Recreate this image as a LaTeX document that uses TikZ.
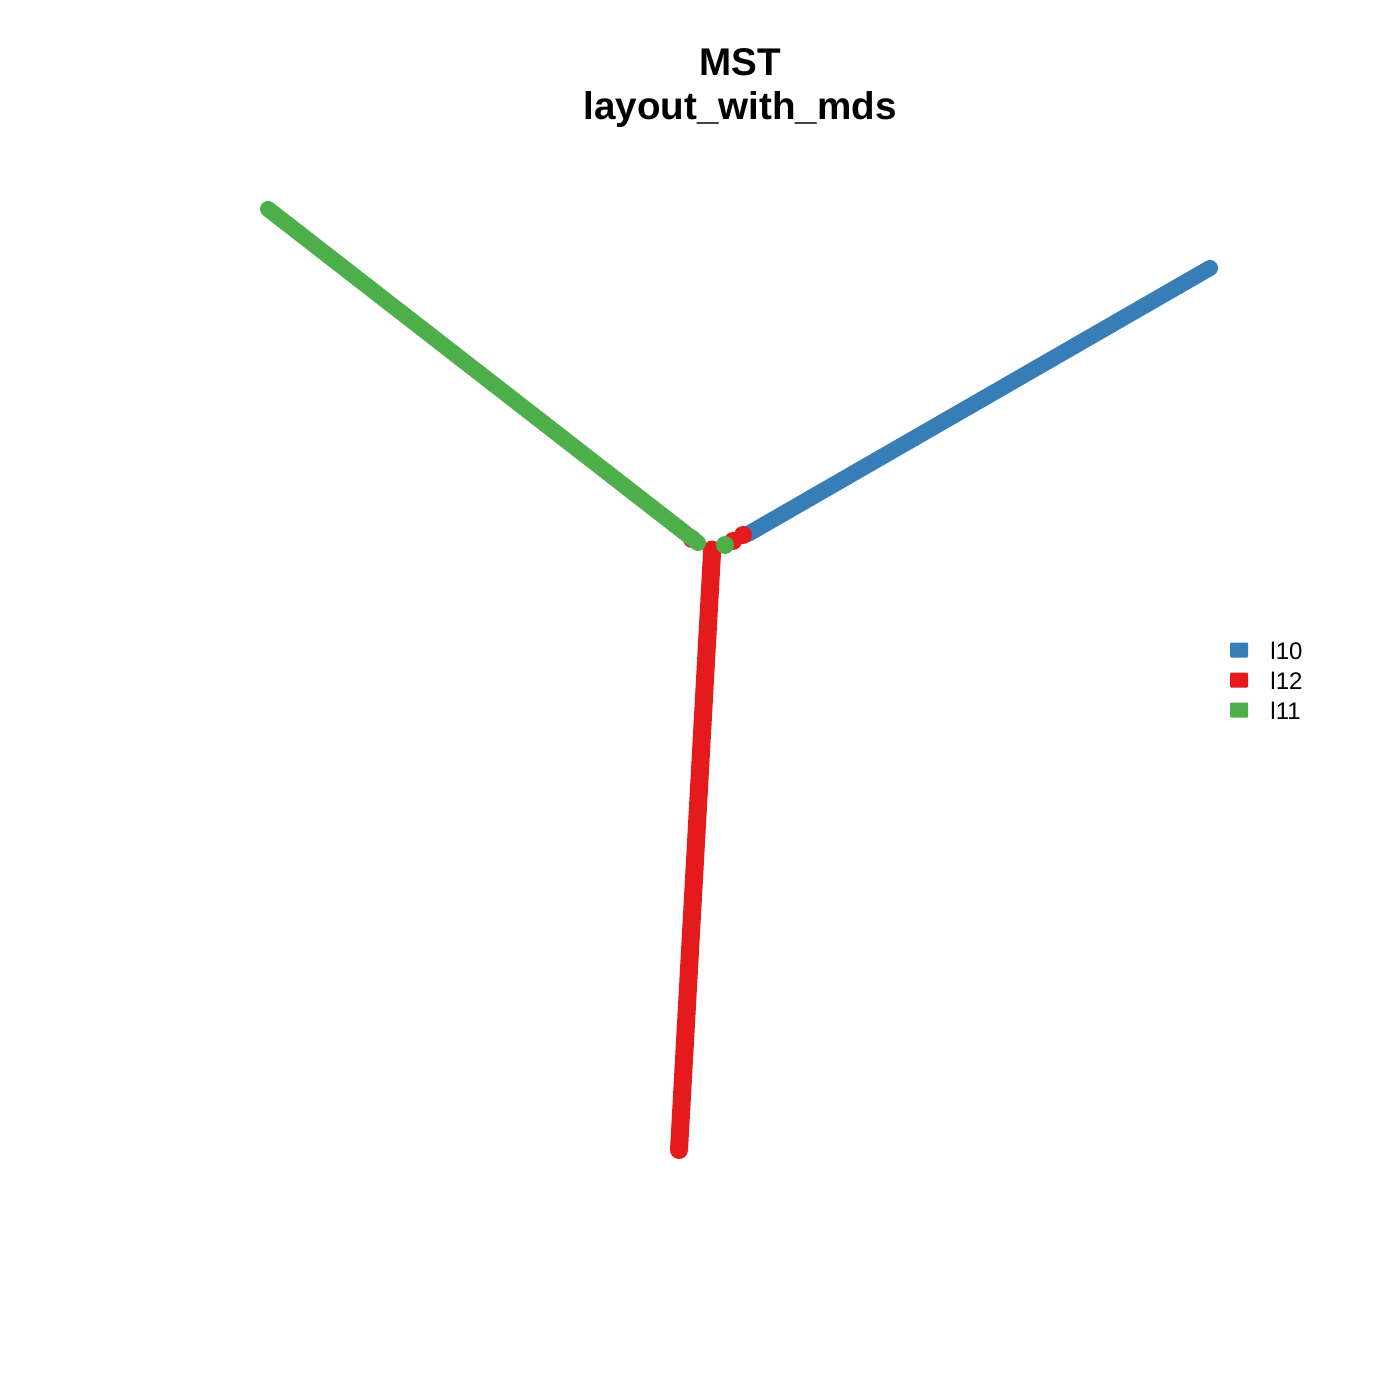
\documentclass[tikz,border=0pt]{standalone}
\usepackage{fontspec}
\setmainfont{Liberation Sans}
\definecolor{cblue}{HTML}{377EB8}
\definecolor{cred}{HTML}{E41A1C}
\definecolor{cgreen}{HTML}{4DAF4A}
\begin{document}
\begin{tikzpicture}[x=0.5pt,y=-0.5pt,
  branch/.style={line width=8pt,line cap=round},
  dot/.style={circle,inner sep=0pt,minimum size=9pt},
  legbox/.style={inner sep=0pt,minimum width=9pt,minimum height=7.5pt,rounded corners=0.5pt},
  legtxt/.style={anchor=west,font=\fontsize{12}{14}\selectfont,inner sep=0pt}]
\useasboundingbox (0,0) rectangle (1400,1400);
% coordinates
\coordinate (gEnd) at (268,209);
\coordinate (gJ) at (698,543);
\coordinate (bEnd) at (1210,268);
\coordinate (bJ) at (748,534);
\coordinate (rJ) at (712,553);
\coordinate (rEnd) at (679,1150);
% red behind junction
\draw[cred,line width=9pt,line cap=round] (rJ) -- (rEnd);
\fill[cred] (692,539) circle (4.5pt);
\fill[cred] (712,550) circle (4.7pt);
% green branch
\draw[branch,cgreen] (gEnd) -- (gJ);
% blue branch
\draw[branch,cblue] (bEnd) -- (bJ);
\node[dot,fill=cred] (r1) at (743,535) {};
\node[dot,fill=cred] (r2) at (733,541) {};
\node[dot,fill=cgreen] (g1) at (725,545) {};
% title
\node[font=\bfseries\fontsize{19.3}{22}\selectfont,align=center] (title) at (740,88) {MST\\layout\_with\_mds};
% legend
\node[legbox,fill=cblue] (lb1) at (1239,650) {};
\node[legbox,fill=cred] (lb2) at (1239,680) {};
\node[legbox,fill=cgreen] (lb3) at (1239,710) {};
\node[legtxt] (lt1) at (1270,651) {l10};
\node[legtxt] (lt2) at (1270,681) {l12};
\node[legtxt] (lt3) at (1270,711) {l11};
\end{tikzpicture}
\end{document}
